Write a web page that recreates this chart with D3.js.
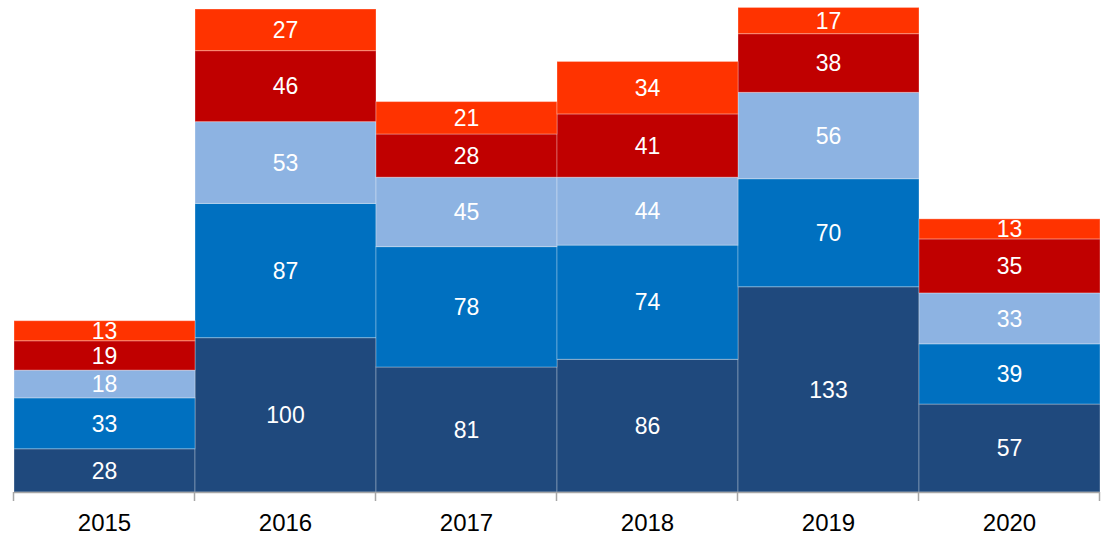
<!DOCTYPE html>
<html>
<head>
<meta charset="utf-8">
<script src="https://cdn.jsdelivr.net/npm/d3@7"></script>
<style>
  body { margin: 0; background: #fff; }
  svg { display: block; font-family: "Liberation Sans", Arial, sans-serif; }
</style>
</head>
<body>
<svg id="chart" width="1101" height="536"></svg>
<script>
// chart data
const years = ["2015", "2016", "2017", "2018", "2019", "2020"];
const seriesKeys = ["s1", "s2", "s3", "s4", "s5"];
const s1 = [28, 100, 81, 86, 133, 57];
const s2 = [33, 87, 78, 74, 70, 39];
const s3 = [18, 53, 45, 44, 56, 33];
const s4 = [19, 46, 28, 41, 38, 35];
const s5 = [13, 27, 21, 34, 17, 13];
const seriesColors = ["#1F497D", "#0070C0", "#8DB3E2", "#C00000", "#FF3300"];

const width = 1101, height = 536;
const margin = { left: 14, right: 1, bottom: 44 };
const baseY = height - margin.bottom; // 492

const svg = d3.select("#chart");

// build table rows for d3.stack
const rows = years.map((y, i) => ({
  year: y, s1: s1[i], s2: s2[i], s3: s3[i], s4: s4[i], s5: s5[i]
}));
const stacked = d3.stack().keys(seriesKeys)(rows);

const x = d3.scaleBand()
  .domain(years)
  .range([margin.left, width - margin.right])
  .padding(0);

const y = d3.scaleLinear()
  .domain([0, 313])
  .range([baseY, 9]);

const color = d3.scaleOrdinal().domain(seriesKeys).range(seriesColors);

// stacked segments
const layers = svg.append("g")
  .selectAll("g")
  .data(stacked)
  .join("g")
  .attr("fill", d => color(d.key));

layers.selectAll("rect")
  .data(d => d)
  .join("rect")
  .attr("x", d => x(d.data.year))
  .attr("y", d => y(d[1]))
  .attr("width", x.bandwidth())
  .attr("height", d => y(d[0]) - y(d[1]))
  .attr("stroke", "rgba(255,255,255,0.3)")
  .attr("stroke-width", 1);

// value labels
layers.selectAll("text")
  .data(d => d)
  .join("text")
  .attr("x", d => x(d.data.year) + x.bandwidth() / 2)
  .attr("y", d => (y(d[0]) + y(d[1])) / 2)
  .attr("dy", "0.36em")
  .attr("text-anchor", "middle")
  .attr("fill", "#fff")
  .style("font-size", "23px")
  .text(d => d[1] - d[0]);

// x axis: line, ticks at category boundaries, centered labels
const axis = svg.append("g");
axis.append("line")
  .attr("x1", margin.left)
  .attr("x2", width - margin.right)
  .attr("y1", baseY + 0.5)
  .attr("y2", baseY + 0.5)
  .attr("stroke", "#A6A6A6")
  .attr("stroke-width", 1.5);

const tickXs = years.map(d => x(d)).concat([x.range()[1]]);
axis.selectAll(".tick")
  .data(tickXs)
  .join("line")
  .attr("class", "tick")
  .attr("x1", d => Math.round(d) - 0.5)
  .attr("x2", d => Math.round(d) - 0.5)
  .attr("y1", baseY)
  .attr("y2", baseY + 9)
  .attr("stroke", "#A6A6A6")
  .attr("stroke-width", 1.5);

axis.selectAll(".label")
  .data(years)
  .join("text")
  .attr("class", "label")
  .attr("x", d => x(d) + x.bandwidth() / 2)
  .attr("y", baseY + 39)
  .attr("text-anchor", "middle")
  .attr("fill", "#000")
  .style("font-size", "24px")
  .text(d => d);
</script>
</body>
</html>
